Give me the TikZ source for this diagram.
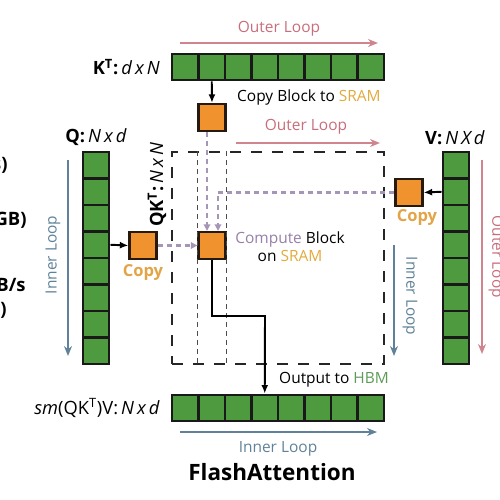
\documentclass[tikz,border=0pt]{standalone}
\usepackage{fontspec}
\setmainfont{Open Sans}
\usetikzlibrary{arrows.meta}
\definecolor{cellgreen}{RGB}{78,154,62}
\definecolor{blockorange}{RGB}{240,146,45}
\definecolor{outerpink}{RGB}{200,110,122}
\definecolor{innerblue}{RGB}{96,130,152}
\definecolor{copypurple}{RGB}{165,150,185}
\definecolor{computepurple}{RGB}{150,128,168}
\definecolor{sramgold}{RGB}{226,170,60}
\definecolor{hbmgreen}{RGB}{92,155,88}
\definecolor{copyorange}{RGB}{226,164,70}
\tikzset{
  cell/.style={draw=black!90, fill=cellgreen, line width=1.4pt, minimum size=5.3mm, inner sep=0pt},
  blk/.style={draw=black!80!brown, fill=blockorange, line width=1.3pt, minimum size=5.4mm, inner sep=0pt},
  blackarrow/.style={draw=black, line width=1.1pt, -{Latex[length=1.7mm,width=1.4mm]}},
  copyarrow/.style={draw=copypurple, line width=1.2pt, dash pattern=on 1mm off 0.8mm, -{Triangle[length=1.3mm,width=1.3mm]}},
  outerarrow/.style={draw=outerpink!85, line width=1.1pt, -{Stealth[length=2mm,width=1.6mm]}},
  innerarrow/.style={draw=innerblue, line width=1.1pt, -{Stealth[length=2mm,width=1.6mm]}},
  labtext/.style={font=\fontsize{10.4}{12}\selectfont},
  looptext/.style={font=\fontsize{8.8}{10}\selectfont},
  copytext/.style={text=copyorange, font=\bfseries\fontsize{9.4}{11}\selectfont},
  cuttext/.style={anchor=east, inner sep=0pt, font=\bfseries\fontsize{10.5}{12}\selectfont},
}
\begin{document}
\begin{tikzpicture}[x=0.2mm, y=-0.2mm, font=\fontsize{8.8}{10.2}\selectfont]
\useasboundingbox (0,0) rectangle (500,500);
\clip (0,0) rectangle (500,500);
% cut text at the left edge
\node[cuttext] (cut0) at (8,165) {s)};
\node[cuttext] (cut1) at (27,220) {GB)};
\node[cuttext] (cut2) at (26,285) {B/s};
\node[cuttext] (cut3) at (7,310) {)};
% QK^T matrix
\node[draw=black!85, line width=0.8pt, dash pattern=on 2.2mm off 2mm, minimum size=42.4mm, inner sep=0pt] (qkt) at (278,258) {};
% cells
\foreach \i in {0,...,7} {
  \node[cell] (kt\i) at (185.25+26.5*\i, 67) {};
  \node[cell] (out\i) at (185.25+26.5*\i, 408) {};
  \node[cell] (q\i) at (96, 165.25+26.5*\i) {};
  \node[cell] (v\i) at (456, 165.25+26.5*\i) {};
}
% blocks
\node[blk] (kcopy) at (212,117.5) {};
\node[blk] (qcopy) at (143,245.5) {};
\node[blk] (comp) at (212,245.5) {};
\node[blk] (vcopy) at (409,192.5) {};
\draw[black!70, line width=0.7pt, dash pattern=on 1mm off 0.8mm] (qkt.north -| comp.west) -- (qkt.south -| comp.west);
\draw[black!70, line width=0.7pt, dash pattern=on 1mm off 0.8mm] (qkt.north -| comp.east) -- (qkt.south -| comp.east);
% copies
\draw[blackarrow] (kt1.south) -- (kcopy.north);
\draw[blackarrow] (q3.east) -- (qcopy.west);
\draw[blackarrow] (v1.west) -- (vcopy.east);
\draw[copyarrow] ([xshift=-1mm]kcopy.south) -- ([xshift=-1mm]comp.north);
\draw[copyarrow] (vcopy.west) -| ([xshift=1.2mm]comp.north);
\draw[copyarrow] (qcopy.east) -- (comp.west);
\coordinate (bend) at (265,316);
\draw[blackarrow] (comp.south) |- (bend) -- (out3.north);
% loops
\coordinate (ol1s) at (180,43);  \coordinate (ol1e) at (378,43);
\coordinate (ol2s) at (236,143); \coordinate (ol2e) at (380,143);
\coordinate (ol3s) at (482,160); \coordinate (ol3e) at (482,354);
\coordinate (il1s) at (68,160);  \coordinate (il1e) at (68,356);
\coordinate (il2s) at (394,245); \coordinate (il2e) at (394,356);
\coordinate (il3s) at (180,432); \coordinate (il3e) at (377,432);
\draw[outerarrow] (ol1s) -- (ol1e);
\draw[outerarrow] (ol2s) -- (ol2e);
\draw[outerarrow] (ol3s) -- (ol3e);
\draw[innerarrow] (il1s) -- (il1e);
\draw[innerarrow] (il2s) -- (il2e);
\draw[innerarrow] (il3s) -- (il3e);
\node[looptext, text=outerpink] (ol1lab) at (279,29) {Outer Loop};
\node[looptext, text=outerpink] (ol2lab) at (306,127) {Outer Loop};
\node[looptext, text=outerpink, rotate=-90] (ol3lab) at (496,257) {Outer Loop};
\node[looptext, text=innerblue, rotate=90] (il1lab) at (53,255) {Inner Loop};
\node[looptext, text=innerblue, rotate=-90] (il2lab) at (410,296) {Inner Loop};
\node[looptext, text=innerblue] (il3lab) at (278,449) {Inner Loop};
% labels
\node[labtext, anchor=east] (ktlab) at (166,67) {\textbf{K\textsuperscript{T}:}\,\textit{d\,x\,N}};
\node[labtext] (qlab) at (96,137) {\textbf{Q:}\,\textit{N\,x\,d}};
\node[labtext] (vlab) at (455,138) {\textbf{V:}\,\textit{N\,X\,d}};
\node[labtext, rotate=90] (qktlab) at (157,185) {\textbf{QK\textsuperscript{T}:}\,\textit{N\,x\,N}};
\node[labtext, anchor=east] (smlab) at (166,408) {\textit{sm}(QK\textsuperscript{T})V:\,\textit{N\,x\,d}};
\node[anchor=west] (copylab) at (231,97) {Copy Block to \textcolor{sramgold}{SRAM}};
\node[align=center] (complab) at (290,247) {\textcolor{computepurple}{Compute} Block\\on \textcolor{sramgold}{SRAM}};
\node[anchor=west] (outlab) at (273,380) {Output to \textcolor{hbmgreen}{HBM}};
\node[copytext] (qcopylab) at (143,272) {Copy};
\node[copytext] (vcopylab) at (417,218) {Copy};
\node[font=\bfseries\fontsize{12.8}{15}\selectfont] (title) at (272,472) {FlashAttention};
\end{tikzpicture}
\end{document}
